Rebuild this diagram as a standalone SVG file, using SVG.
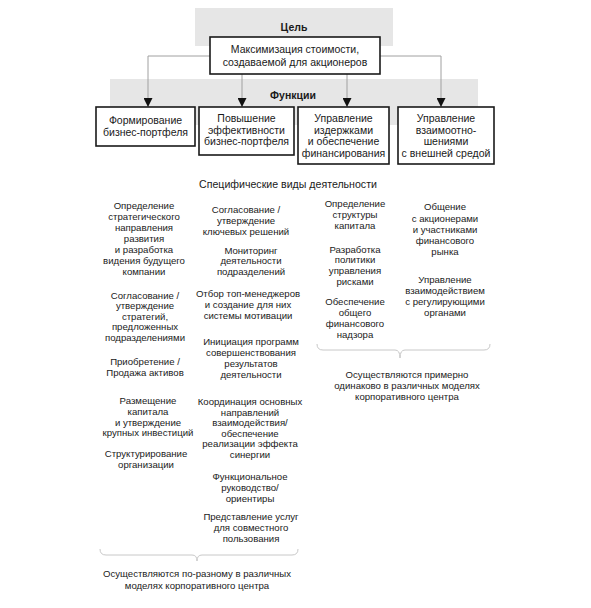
<svg xmlns="http://www.w3.org/2000/svg" width="591" height="608" viewBox="0 0 591 608">
<defs>
<style>
text{font-family:"Liberation Sans",Arial,sans-serif;fill:#1a1a1a;text-anchor:middle}
.band{fill:#e6e6e6}
.box{fill:#fff;stroke:#1a1a1a;stroke-width:1.6}
.t{font-size:10.5px}
.h{font-size:10.5px;font-weight:bold}
.s{font-size:9.6px}
.conn{stroke:#a0a0a0;stroke-width:1;fill:none}
.brace{stroke:#c8c8c8;stroke-width:1;fill:none}
</style>
<marker id="arr" viewBox="0 0 10 10" refX="10" refY="5" markerWidth="9" markerHeight="9" markerUnits="userSpaceOnUse" orient="auto">
<path d="M0,0 L10,5 L0,10 Z" fill="#111"/>
</marker>
</defs>
<rect width="591" height="608" fill="#fff"/>

<g id="goal-band">
<rect class="band" x="195" y="8" width="198" height="38"/>
<text class="h" x="294" y="31">Цель</text>
</g>
<g id="functions-band">
<rect class="band" x="110" y="79" width="368" height="46"/>
<text class="h" x="293" y="99">Функции</text>
</g>

<g id="connectors">
<path class="conn" d="M148,56 H441"/>
<path class="conn" d="M148,56 V107" marker-end="url(#arr)"/>
<path class="conn" d="M242,56 V107" marker-end="url(#arr)"/>
<path class="conn" d="M347,56 V107" marker-end="url(#arr)"/>
<path class="conn" d="M441,56 V107" marker-end="url(#arr)"/>
</g>

<g id="goal">
<rect class="box" x="210" y="37" width="170" height="37"/>
<text class="t" x="295" y="53">Максимизация стоимости,</text>
<text class="t" x="295" y="65.5">создаваемой для акционеров</text>
</g>

<g id="f1">
<rect class="box" x="96" y="107" width="99" height="39"/>
<text class="t" x="145.5" y="124">Формирование</text>
<text class="t" x="145.5" y="136">бизнес-портфеля</text>
</g>
<g id="f2">
<rect class="box" x="199" y="107" width="95" height="48"/>
<text class="t" x="246.5" y="122">Повышение</text>
<text class="t" x="246.5" y="133.7">эффективности</text>
<text class="t" x="246.5" y="145.4">бизнес-портфеля</text>
</g>
<g id="f3">
<rect class="box" x="298" y="107" width="91" height="57"/>
<text class="t" x="343.5" y="122">Управление</text>
<text class="t" x="343.5" y="133.7">издержками</text>
<text class="t" x="343.5" y="145.4">и обеспечение</text>
<text class="t" x="343.5" y="157.1">финансирования</text>
</g>
<g id="f4">
<rect class="box" x="398" y="107" width="96" height="57"/>
<text class="t" x="446" y="122">Управление</text>
<text class="t" x="446" y="133.7">взаимоотно-</text>
<text class="t" x="446" y="145.4">шениями</text>
<text class="t" x="446" y="157.1">с внешней средой</text>
</g>

<g id="heading">
<text x="288" y="188" style="font-size:10.6px">Специфические виды деятельности</text>
</g>

<g id="col1">
<text class="s" x="144" y="208.5">Определение</text>
<text class="s" x="144" y="219.5">стратегического</text>
<text class="s" x="144" y="230.5">направления</text>
<text class="s" x="144" y="241.5">развития</text>
<text class="s" x="144" y="252.5">и разработка</text>
<text class="s" x="144" y="263.5">видения будущего</text>
<text class="s" x="144" y="274.5">компании</text>
<text class="s" x="145" y="298.5">Согласование /</text>
<text class="s" x="145" y="309">утверждение</text>
<text class="s" x="145" y="319.5">стратегий,</text>
<text class="s" x="145" y="330">предложенных</text>
<text class="s" x="145" y="340.5">подразделениями</text>
<text class="s" x="145" y="365">Приобретение /</text>
<text class="s" x="145" y="376">Продажа активов</text>
<text class="s" x="148" y="403.5">Размещение</text>
<text class="s" x="148" y="414.5">капитала</text>
<text class="s" x="148" y="425.5">и утверждение</text>
<text class="s" x="148" y="436">крупных инвестиций</text>
<text class="s" x="146" y="457">Структурирование</text>
<text class="s" x="146" y="468">организации</text>
</g>

<g id="col2">
<text class="s" x="246" y="212.5">Согласование /</text>
<text class="s" x="246" y="223.5">утверждение</text>
<text class="s" x="246" y="234.5">ключевых решений</text>
<text class="s" x="251" y="253.5">Мониторинг</text>
<text class="s" x="251" y="264">деятельности</text>
<text class="s" x="251" y="275">подразделений</text>
<text class="s" x="248" y="296.5">Отбор топ-менеджеров</text>
<text class="s" x="248" y="307.5">и создание для них</text>
<text class="s" x="248" y="318.5">системы мотивации</text>
<text class="s" x="251" y="345">Инициация программ</text>
<text class="s" x="251" y="356">совершенствования</text>
<text class="s" x="251" y="367">результатов</text>
<text class="s" x="251" y="378">деятельности</text>
<text class="s" x="250" y="405">Координация основных</text>
<text class="s" x="250" y="415.5">направлений</text>
<text class="s" x="250" y="426">взаимодействия/</text>
<text class="s" x="250" y="436.5">обеспечение</text>
<text class="s" x="250" y="447">реализации эффекта</text>
<text class="s" x="250" y="457.5">синергии</text>
<text class="s" x="250" y="480">Функциональное</text>
<text class="s" x="250" y="491">руководство/</text>
<text class="s" x="250" y="502">ориентиры</text>
<text class="s" x="251" y="520">Представление услуг</text>
<text class="s" x="251" y="531">для совместного</text>
<text class="s" x="251" y="542">пользования</text>
</g>

<g id="col3">
<text class="s" x="355" y="207">Определение</text>
<text class="s" x="355" y="218">структуры</text>
<text class="s" x="355" y="229">капитала</text>
<text class="s" x="355" y="252.5">Разработка</text>
<text class="s" x="355" y="263">политики</text>
<text class="s" x="355" y="274">управления</text>
<text class="s" x="355" y="285">рисками</text>
<text class="s" x="355" y="304.5">Обеспечение</text>
<text class="s" x="355" y="315.5">общего</text>
<text class="s" x="355" y="326.5">финансового</text>
<text class="s" x="355" y="338">надзора</text>
</g>

<g id="col4">
<text class="s" x="445" y="210">Общение</text>
<text class="s" x="445" y="221.5">с акционерами</text>
<text class="s" x="445" y="232.5">и участниками</text>
<text class="s" x="445" y="244">финансового</text>
<text class="s" x="445" y="255">рынка</text>
<text class="s" x="445" y="282.5">Управление</text>
<text class="s" x="445" y="293.5">взаимодействием</text>
<text class="s" x="445" y="304.5">с регулирующими</text>
<text class="s" x="445" y="316">органами</text>
</g>

<g id="brace-same">
<path class="brace" d="M317,344 Q317,350 323,350 H395 Q400,350 400,358 Q400,350 405,350 H484 Q490,350 490,344"/>
<text class="s" x="407" y="377.5">Осуществляются примерно</text>
<text class="s" x="407" y="389">одинаково в различных моделях</text>
<text class="s" x="407" y="400">корпоративного центра</text>
</g>

<g id="brace-diff">
<path class="brace" d="M100,549 Q100,555 106,555 H192 Q197,555 197,561 Q197,555 202,555 H292 Q298,555 298,549"/>
<text class="s" x="197" y="577">Осуществляются по-разному в различных</text>
<text class="s" x="197" y="588.5">моделях корпоративного центра</text>
</g>
</svg>
